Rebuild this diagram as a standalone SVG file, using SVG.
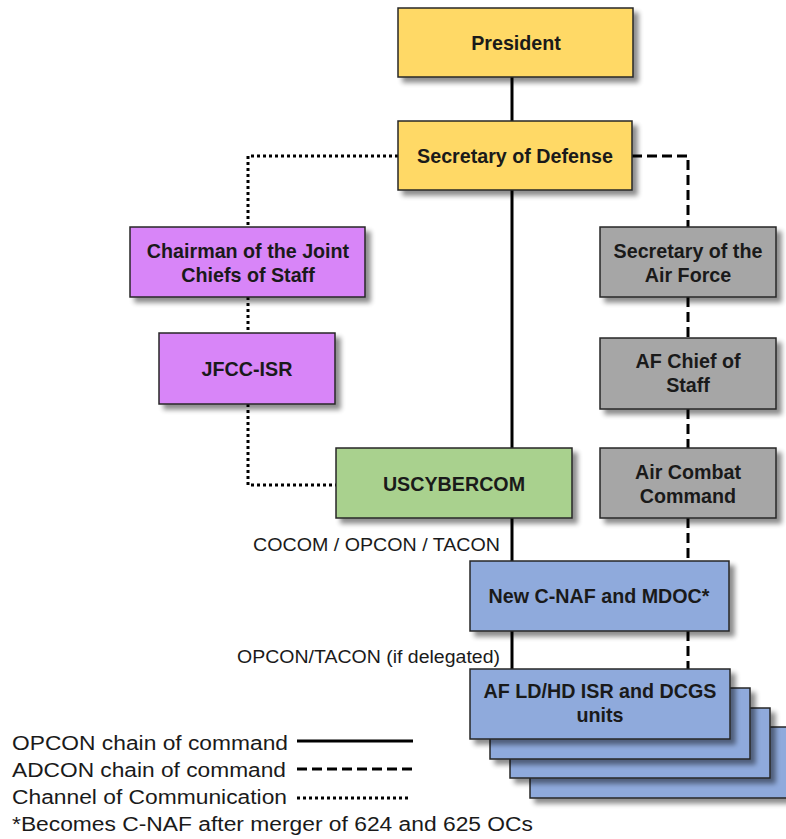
<svg xmlns="http://www.w3.org/2000/svg" width="786" height="839" viewBox="0 0 786 839">
<defs>
<filter id="sh" x="-10%" y="-10%" width="130%" height="140%">
<feGaussianBlur in="SourceAlpha" stdDeviation="2.5"/>
<feOffset dx="5" dy="5" result="b"/>
<feComponentTransfer><feFuncA type="linear" slope="0.45"/></feComponentTransfer>
<feMerge><feMergeNode/><feMergeNode in="SourceGraphic"/></feMerge>
</filter>
</defs>
<style>
.box{stroke:#262626;stroke-width:1.5;filter:url(#sh)}
.y{fill:#FFD966}.p{fill:#D885F8}.g{fill:#A9D18E}.gr{fill:#A6A6A6}.b{fill:#8FAADC}
.t{font-family:"Liberation Sans",Arial,sans-serif;font-weight:bold;font-size:19.7px;fill:#1a1a1a;text-anchor:middle}
.l{font-family:"Liberation Sans",Arial,sans-serif;font-size:20px;fill:#1a1a1a}
.s{font-family:"Liberation Sans",Arial,sans-serif;font-size:17.5px;fill:#1a1a1a}
.solid{stroke:#000;stroke-width:3;fill:none}
.dash{stroke:#000;stroke-width:3;fill:none;stroke-dasharray:10 5}
.dot{stroke:#000;stroke-width:3;fill:none;stroke-dasharray:3 3}
</style>
<rect width="786" height="839" fill="#fff"/>
<g id="connectors">
<line class="solid" x1="512" y1="77" x2="512" y2="121"/>
<line class="solid" x1="512" y1="190" x2="512" y2="448"/>
<line class="solid" x1="512" y1="518" x2="512" y2="561"/>
<line class="solid" x1="512" y1="631" x2="512" y2="669"/>
<polyline class="dot" points="398,156 248,156 248,227"/>
<line class="dot" x1="248" y1="297" x2="248" y2="333"/>
<polyline class="dot" points="248,404 248,485 336,485"/>
<polyline class="dash" points="632,156 688,156 688,227"/>
<line class="dash" x1="688" y1="297" x2="688" y2="338"/>
<line class="dash" x1="688" y1="409" x2="688" y2="448"/>
<line class="dash" x1="688" y1="518" x2="688" y2="561"/>
<line class="dash" x1="688" y1="631" x2="688" y2="669"/>
<text class="s" x="253" y="551" textLength="247" lengthAdjust="spacingAndGlyphs">COCOM / OPCON / TACON</text>
<text class="s" x="237" y="663" textLength="263" lengthAdjust="spacingAndGlyphs">OPCON/TACON (if delegated)</text>
</g>
<g id="president"><rect class="box y" x="398" y="8" width="235" height="69"/><text class="t" x="516" y="50">President</text></g>
<g id="secdef"><rect class="box y" x="398" y="121" width="234" height="69"/><text class="t" x="515" y="163">Secretary of Defense</text></g>
<g id="cjcs"><rect class="box p" x="130" y="227" width="235" height="70"/><text class="t" x="248" y="258">Chairman of the Joint</text><text class="t" x="248" y="282">Chiefs of Staff</text></g>
<g id="jfcc"><rect class="box p" x="159" y="333" width="176" height="71"/><text class="t" x="247" y="376">JFCC-ISR</text></g>
<g id="uscybercom"><rect class="box g" x="336" y="448" width="236" height="70"/><text class="t" x="454" y="491">USCYBERCOM</text></g>
<g id="secaf"><rect class="box gr" x="600" y="227" width="176" height="70"/><text class="t" x="688" y="258">Secretary of the</text><text class="t" x="688" y="282">Air Force</text></g>
<g id="afcs"><rect class="box gr" x="600" y="338" width="176" height="71"/><text class="t" x="688" y="368">AF Chief of</text><text class="t" x="688" y="392">Staff</text></g>
<g id="acc"><rect class="box gr" x="600" y="448" width="176" height="70"/><text class="t" x="688" y="479">Air Combat</text><text class="t" x="688" y="503">Command</text></g>
<g id="cnaf"><rect class="box b" x="470" y="561" width="259" height="70"/><text class="t" x="599" y="603">New C-NAF and MDOC*</text></g>
<g id="units">
<rect class="box b" x="530" y="727" width="260" height="71"/>
<rect class="box b" x="510" y="708" width="260" height="70"/>
<rect class="box b" x="490" y="688" width="260" height="71"/>
<rect class="box b" x="470" y="669" width="260" height="70"/>
<text class="t" x="600" y="698">AF LD/HD ISR and DCGS</text><text class="t" x="600" y="722">units</text>
</g>
<g id="legend">
<text class="l" x="12" y="750" textLength="276" lengthAdjust="spacingAndGlyphs">OPCON chain of command</text>
<line class="solid" x1="297" y1="741" x2="413" y2="741"/>
<text class="l" x="12" y="777" textLength="274" lengthAdjust="spacingAndGlyphs">ADCON chain of command</text>
<line class="dash" x1="297" y1="769" x2="413" y2="769"/>
<text class="l" x="12" y="804" textLength="275" lengthAdjust="spacingAndGlyphs">Channel of Communication</text>
<line class="dot" x1="297" y1="798" x2="409" y2="798"/>
<text class="l" x="12" y="831" textLength="521" lengthAdjust="spacingAndGlyphs">*Becomes C-NAF after merger of 624 and 625 OCs</text>
</g>
</svg>
